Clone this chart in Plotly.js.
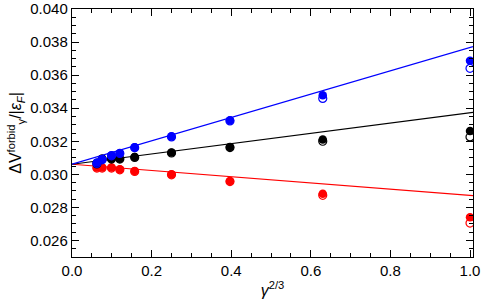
<!DOCTYPE html>
<html>
<head>
<meta charset="utf-8">
<script src="https://cdn.plot.ly/plotly-3.0.1.min.js"></script>
<style>html,body{margin:0;padding:0;background:#fff;}</style>
</head>
<body>
<div id="chart" style="width:482px;height:307px;"></div>
<script>
// gamma^(2/3) positions
const xVals = [0.0625, 0.0757, 0.0992, 0.1202, 0.1575, 0.25, 0.3969, 0.63, 1.0];

// filled markers
const blueFilled  = [0.03071, 0.03091, 0.03115, 0.03129, 0.03164, 0.03230, 0.03327, 0.03479, 0.03687];
const blackFilled = [0.03068, 0.03095, 0.03095, 0.03095, 0.03105, 0.03132, 0.03165, 0.03210, 0.03262];
const redFilled   = [0.03041, 0.03041, 0.03041, 0.03030, 0.03020, 0.03000, 0.02959, 0.02883, 0.02741];

// open markers
const blueOpen  = [0.03066, 0.03088, 0.03112, 0.03126, 0.03161, 0.03226, 0.03323, 0.03459, 0.03641];
const blackOpen = [0.03063, 0.03092, 0.03092, 0.03092, 0.03102, 0.03129, 0.03162, 0.03200, 0.03226];
const redOpen   = [0.03038, 0.03038, 0.03038, 0.03027, 0.03017, 0.02997, 0.02956, 0.02873, 0.02705];

// fit lines
const fitX     = [0, 1.0075];
const fitBlue  = [0.03061, 0.03772];
const fitBlack = [0.03061, 0.03375];
const fitRed   = [0.03061, 0.02871];

const colors = {blue: '#0000ff', black: '#000000', red: '#ff0000'};

const traces = [];
function addSeries(yOpen, yFilled, fitY, c) {
  traces.push({x: fitX, y: fitY, mode: 'lines', line: {color: c, width: 1.2}, hoverinfo: 'skip', cliponaxis: true});
  traces.push({x: xVals, y: yOpen, mode: 'markers', marker: {symbol: 'circle-open', size: 8, color: c, line: {width: 1.2, color: c}}, cliponaxis: true});
  traces.push({x: xVals, y: yFilled, mode: 'markers', marker: {symbol: 'circle', size: 8.5, color: c}, cliponaxis: true});
}
addSeries(redOpen, redFilled, fitRed, colors.red);
addSeries(blackOpen, blackFilled, fitBlack, colors.black);
addSeries(blueOpen, blueFilled, fitBlue, colors.blue);

const font = {family: 'Liberation Sans, Arial, sans-serif', size: 15, color: '#000'};
const titleFont = {family: 'Liberation Sans, Arial, sans-serif', size: 16, color: '#000'};

const layout = {
  width: 482, height: 307,
  margin: {l: 72, r: 9, t: 9, b: 50},
  showlegend: false,
  paper_bgcolor: '#fff', plot_bgcolor: '#fff',
  font: font,
  xaxis: {
    range: [0, 1.0075],
    tickmode: 'array',
    tickvals: [0, 0.2, 0.4, 0.6, 0.8, 1.0],
    ticktext: ['0.0', '0.2', '0.4', '0.6', '0.8', '1.0'],
    ticks: 'inside', ticklen: 7, tickwidth: 1, tickcolor: '#000',
    minor: {tickmode: 'array', tickvals: [0.05,0.1,0.15,0.25,0.3,0.35,0.45,0.5,0.55,0.65,0.7,0.75,0.85,0.9,0.95], ticks: 'inside', ticklen: 4, tickcolor: '#000', showgrid: false},
    showline: true, linecolor: '#000', linewidth: 1.2, mirror: 'allticks',
    showgrid: false, zeroline: false,
    tickfont: font,
    title: {text: '<i>γ</i><sup>2/3</sup>', font: titleFont, standoff: 6}
  },
  yaxis: {
    range: [0.025, 0.040],
    tickmode: 'array',
    tickvals: [0.026, 0.028, 0.030, 0.032, 0.034, 0.036, 0.038, 0.040],
    ticktext: ['0.026', '0.028', '0.030', '0.032', '0.034', '0.036', '0.038', '0.040'],
    ticks: 'inside', ticklen: 7, tickwidth: 1, tickcolor: '#000',
    minor: {dtick: 0.0005, tick0: 0.025, ticks: 'inside', ticklen: 4, tickcolor: '#000', showgrid: false},
    showline: true, linecolor: '#000', linewidth: 1.2, mirror: 'allticks',
    showgrid: false, zeroline: false,
    tickfont: font,
    title: {text: 'ΔV<sup>forbid</sup><sub>γ</sub>/|<i>ε</i><sub><i>F</i></sub>|', font: titleFont, standoff: 4}
  }
};

Plotly.newPlot('chart', traces, layout, {displayModeBar: false, staticPlot: true});
</script>
</body>
</html>
